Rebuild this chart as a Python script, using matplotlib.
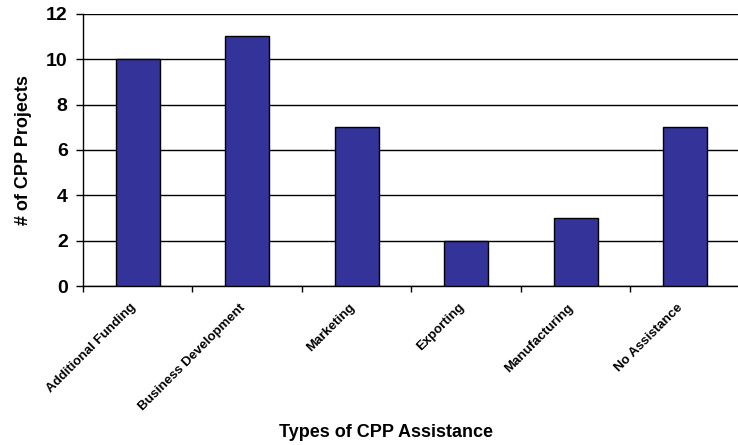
import matplotlib
matplotlib.use("Agg")
import matplotlib.pyplot as plt
import matplotlib.transforms as mtransforms
import numpy as np

categories = ["Additional Funding", "Business Development", "Marketing",
              "Exporting", "Manufacturing", "No Assistance"]
projects = [10, 11, 7, 2, 3, 7]

plt.rcParams['font.family'] = ['Liberation Sans', 'DejaVu Sans']

fig = plt.figure(figsize=(7.38, 4.45), dpi=100)
ax = fig.add_axes([0.1125, 0.357, 0.89, 0.612])

x = np.arange(len(categories))
ax.bar(x, projects, width=0.4, color="#333399", edgecolor="black",
       linewidth=1, zorder=3)

ax.set_xlim(-0.5, len(categories) - 0.5)
ax.set_ylim(0, 12)
ax.set_yticks(range(0, 13, 2))
ax.yaxis.grid(True, color="black", linewidth=1, zorder=0)

# ticks sit between the categories, labels under each bar
ax.set_xticks(np.arange(len(categories) + 1) - 0.5)
ax.set_xticklabels([])
ax.set_xticks(x, minor=True)
ax.set_xticklabels(categories, minor=True, rotation=45, ha="right",
                   rotation_mode="anchor", fontsize=9.5, fontweight="bold")
ax.tick_params(axis="x", which="minor", length=0, pad=11)
ax.tick_params(axis="x", which="major", length=4, width=1)
ax.tick_params(axis="y", length=5, width=1, labelsize=14, pad=6)
for lbl in ax.get_yticklabels():
    lbl.set_fontweight("bold")

# nudge the slanted labels a little to the left
shift = mtransforms.ScaledTranslation(-0.08, 0, fig.dpi_scale_trans)
for lbl in ax.xaxis.get_minorticklabels():
    lbl.set_transform(lbl.get_transform() + shift)

for side in ["top", "right"]:
    ax.spines[side].set_visible(False)
ax.spines["left"].set_linewidth(1)
ax.spines["bottom"].set_linewidth(1)

ax.set_ylabel("# of CPP Projects", fontsize=13, fontweight="bold", labelpad=10)
fig.text(0.523, 0.018, "Types of CPP Assistance", ha="center", fontsize=13,
         fontweight="bold")

fig.savefig("out.png", dpi=100)
